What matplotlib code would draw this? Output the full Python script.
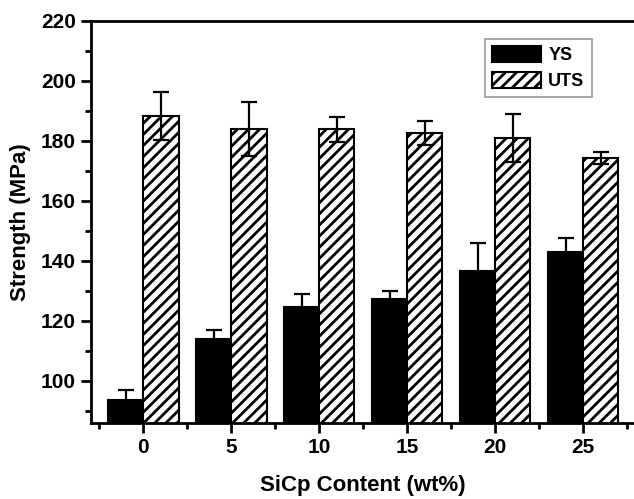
import numpy as np
import matplotlib
matplotlib.use("Agg")
import matplotlib.pyplot as plt
from matplotlib.ticker import MultipleLocator

plt.rcParams['font.family'] = ['Liberation Sans', 'DejaVu Sans']
plt.rcParams['font.weight'] = 'bold'
plt.rcParams['hatch.linewidth'] = 2.0

# data
sic = [0, 5, 10, 15, 20, 25]
ys = [93.6, 113.8, 124.7, 127.3, 136.6, 143.0]
ys_err = [3.3, 3.0, 4.1, 2.7, 9.4, 4.5]
uts = [188.2, 183.8, 183.8, 182.5, 181.0, 174.3]
uts_err = [8.0, 9.0, 4.2, 4.0, 8.0, 2.0]

fig = plt.figure(figsize=(6.34, 4.99), dpi=100)
ax = fig.add_axes([0.143, 0.1517, 0.860, 0.8068])

x = np.array(sic, dtype=float)
w = 2.0
ekw = dict(elinewidth=1.6, capthick=1.6, ecolor='black')
ax.bar(x - w/2, ys, w, yerr=ys_err, color='black', edgecolor='black',
       linewidth=1.5, capsize=6, error_kw=ekw, label='YS')
ax.bar(x + w/2, uts, w, yerr=uts_err, color='white', edgecolor='black',
       hatch='///', linewidth=1.5, capsize=6, error_kw=ekw, label='UTS')

ax.set_xlim(-3, 28)
ax.set_ylim(85.8, 220)
ax.set_xticks(sic)
ax.set_xticks(np.arange(-2.5, 28, 5), minor=True)
ax.set_yticks(np.arange(100, 221, 20))
ax.yaxis.set_minor_locator(MultipleLocator(10))

for s in ax.spines.values():
    s.set_linewidth(2)
ax.tick_params(which='major', direction='out', length=7, width=2,
               labelsize=15, top=False, right=False)
ax.tick_params(which='minor', direction='out', length=4, width=2,
               top=False, right=False)
for lab in ax.get_xticklabels() + ax.get_yticklabels():
    lab.set_fontweight('bold')

ax.set_xlabel('SiCp Content (wt%)', fontsize=16, fontweight='bold', labelpad=13)
ax.set_ylabel('Strength (MPa)', fontsize=16, fontweight='bold', labelpad=7)

leg = ax.legend(loc='upper right', bbox_to_anchor=(0.919, 0.955), fontsize=13,
                fancybox=False, edgecolor='gray', handlelength=2.7,
                handleheight=1.0, borderpad=0.4, labelspacing=0.4,
                handletextpad=0.4, borderaxespad=0)
leg.get_frame().set_linewidth(1.2)
for t in leg.get_texts():
    t.set_fontweight('bold')

fig.savefig('out.png', dpi=100)
